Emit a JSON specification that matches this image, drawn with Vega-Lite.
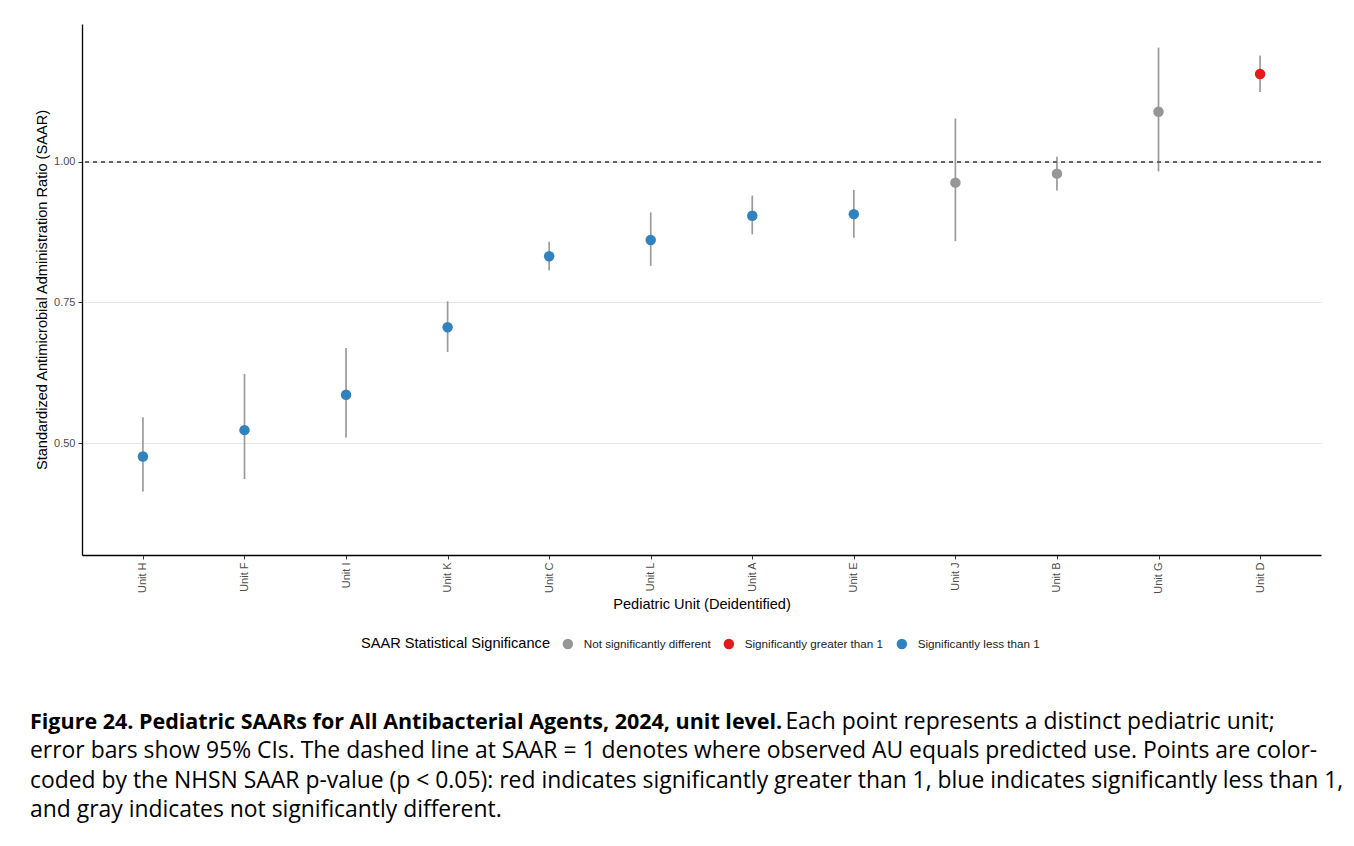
{
  "$schema": "https://vega.github.io/schema/vega-lite/v6.json",
  "width": 1239,
  "height": 531,
  "autosize": {"type": "none"},
  "padding": {"left": 82, "top": 24, "right": 33, "bottom": 291},
  "background": "white",
  "title": {
    "text": "Figure 24. Pediatric SAARs for All Antibacterial Agents, 2024, unit level.",
    "subtitle": [
      "\u200b\u2003\u2003\u2003\u2003\u2003\u2003\u2003\u2003\u2003\u2003\u2003\u2003\u2003\u2003\u2003\u2003\u2003\u2003\u2003\u2003\u2003\u2003\u2003\u2003\u2003\u2003\u2003\u2003\u2003\u2003\u2003\u2003\u2003Each point represents a distinct pediatric unit;",
      "error bars show 95% CIs. The dashed line at SAAR = 1 denotes where observed AU equals predicted use. Points are color-",
      "coded by the NHSN SAAR p-value (p < 0.05): red indicates significantly greater than 1, blue indicates significantly less than 1,",
      "and gray indicates not significantly different."
    ],
    "orient": "bottom",
    "anchor": "start",
    "frame": "group",
    "dx": -52,
    "offset": 61,
    "font": "Open Sans",
    "fontSize": 21.5,
    "fontWeight": "bold",
    "color": "#000000",
    "lineHeight": 29.5,
    "subtitleFont": "Open Sans",
    "subtitleFontSize": 22.9,
    "subtitleFontWeight": "normal",
    "subtitleColor": "#000000",
    "subtitleLineHeight": 29.5,
    "subtitlePadding": -23
  },
  "data": {
    "values": [
      {"unit": "Unit H", "saar": 0.476, "lower": 0.414, "upper": 0.546, "sig": "Significantly less than 1"},
      {"unit": "Unit F", "saar": 0.523, "lower": 0.436, "upper": 0.623, "sig": "Significantly less than 1"},
      {"unit": "Unit I", "saar": 0.586, "lower": 0.510, "upper": 0.669, "sig": "Significantly less than 1"},
      {"unit": "Unit K", "saar": 0.706, "lower": 0.662, "upper": 0.752, "sig": "Significantly less than 1"},
      {"unit": "Unit C", "saar": 0.832, "lower": 0.807, "upper": 0.858, "sig": "Significantly less than 1"},
      {"unit": "Unit L", "saar": 0.861, "lower": 0.815, "upper": 0.910, "sig": "Significantly less than 1"},
      {"unit": "Unit A", "saar": 0.904, "lower": 0.871, "upper": 0.940, "sig": "Significantly less than 1"},
      {"unit": "Unit E", "saar": 0.907, "lower": 0.865, "upper": 0.950, "sig": "Significantly less than 1"},
      {"unit": "Unit J", "saar": 0.963, "lower": 0.859, "upper": 1.077, "sig": "Not significantly different"},
      {"unit": "Unit B", "saar": 0.979, "lower": 0.949, "upper": 1.009, "sig": "Not significantly different"},
      {"unit": "Unit G", "saar": 1.089, "lower": 0.983, "upper": 1.203, "sig": "Not significantly different"},
      {"unit": "Unit D", "saar": 1.156, "lower": 1.124, "upper": 1.189, "sig": "Significantly greater than 1"}
    ]
  },
  "layer": [
    {
      "mark": {"type": "rule", "color": "#9b9b9b", "strokeWidth": 1.7},
      "encoding": {
        "x": {
          "field": "unit", "type": "nominal",
          "sort": ["Unit H", "Unit F", "Unit I", "Unit K", "Unit C", "Unit L", "Unit A", "Unit E", "Unit J", "Unit B", "Unit G", "Unit D"],
          "scale": {"type": "point", "padding": 0.6},
          "title": "Pediatric Unit (Deidentified)"
        },
        "y": {
          "field": "lower", "type": "quantitative",
          "scale": {"domain": [0.301, 1.245], "nice": false, "zero": false},
          "axis": {"values": [0.5, 0.75, 1.0], "format": ".2f"},
          "title": "Standardized Antimicrobial Administration Ratio (SAAR)"
        },
        "y2": {"field": "upper"}
      }
    },
    {
      "mark": {"type": "rule", "color": "#666666", "strokeWidth": 1, "strokeDash": [4, 4]},
      "encoding": {"y": {"datum": 1, "type": "quantitative"}}
    },
    {
      "mark": {"type": "point", "filled": true, "size": 110, "opacity": 1},
      "encoding": {
        "x": {
          "field": "unit", "type": "nominal",
          "sort": ["Unit H", "Unit F", "Unit I", "Unit K", "Unit C", "Unit L", "Unit A", "Unit E", "Unit J", "Unit B", "Unit G", "Unit D"],
          "title": "Pediatric Unit (Deidentified)"
        },
        "y": {
          "field": "saar", "type": "quantitative",
          "axis": {"values": [0.5, 0.75, 1.0], "format": ".2f"},
          "title": "Standardized Antimicrobial Administration Ratio (SAAR)"
        },
        "color": {
          "field": "sig", "type": "nominal",
          "scale": {
            "domain": ["Not significantly different", "Significantly greater than 1", "Significantly less than 1"],
            "range": ["#969696", "#e31a1c", "#3182bd"]
          },
          "legend": {
            "title": "SAAR Statistical Significance",
            "orient": "none",
            "legendX": 279,
            "legendY": 614,
            "direction": "horizontal",
            "titleOrient": "left",
            "titleLimit": 400,
            "labelLimit": 300
          }
        }
      }
    }
  ],
  "resolve": {"scale": {"y": "shared", "x": "shared"}},
  "config": {
    "font": "Liberation Sans",
    "view": {"stroke": null},
    "axis": {
      "domainColor": "#000000",
      "domainWidth": 1.3,
      "tickColor": "#333333",
      "tickSize": 4,
      "tickWidth": 1,
      "labelColor": "#4d4d4d",
      "labelFontSize": 11,
      "labelPadding": 3,
      "titleFontSize": 14.6,
      "titleFontWeight": "normal",
      "titleColor": "#000000",
      "grid": false
    },
    "axisX": {
      "labelAngle": -90,
      "titlePadding": 3
    },
    "axisY": {
      "grid": true,
      "gridColor": "#e6e6e6",
      "gridWidth": 1,
      "titlePadding": 4
    },
    "legend": {
      "titleFontSize": 14.6,
      "titleFontWeight": "normal",
      "titleColor": "#000000",
      "labelFontSize": 11.7,
      "labelColor": "#1a1a1a",
      "symbolType": "circle",
      "symbolSize": 110,
      "symbolStrokeWidth": 0,
      "labelOffset": 10,
      "columnPadding": 12,
      "titlePadding": 12
    }
  }
}
